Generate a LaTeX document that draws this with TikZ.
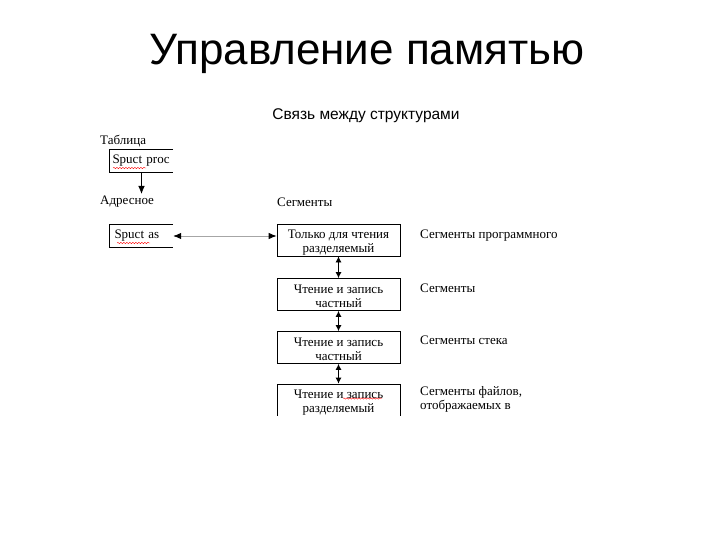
\documentclass[tikz,border=0pt]{standalone}
\usepackage{fontspec}
\setmainfont{Liberation Serif}
\newfontfamily\arialf{Liberation Sans}
\usetikzlibrary{arrows.meta,decorations.pathmorphing}
\newcommand{\twolines}[2]{\raisebox{-6pt}[0pt][0pt]{\begin{tabular}{@{}c@{}}#1\\#2\end{tabular}}}

\begin{document}
\begin{tikzpicture}[x=1pt,y=-1pt,
  txt/.style={font=\fontsize{13}{14}\selectfont, inner sep=0pt},
  box/.style={txt, draw=black, line width=0.8pt, minimum width=123pt, minimum height=32pt, align=center},
  lbox/.style={txt, minimum width=63pt, minimum height=22pt, text width=58pt, align=left},
  lbl/.style={txt, anchor=west, align=left},
  varr/.style={line width=0.8pt, {Latex[length=6pt,width=6pt]}-{Latex[length=6pt,width=6pt]}},
  harr/.style={draw=gray!70, line width=0.8pt, {Latex[length=8pt,width=6.5pt,black]}-{Latex[length=8pt,width=6.5pt,black]}},
  squig/.style={draw=red, line width=0.4pt, decorate, decoration={snake, amplitude=0.7pt, segment length=3pt}}
]
\useasboundingbox (0,0) rectangle (720,540);
\fill[white] (0,0) rectangle (720,540);

\node[font=\arialf\fontsize{44}{50}\selectfont, inner sep=0pt] (title) at (367,54) {Управление памятью};
\node[font=\arialf\fontsize{15.5}{17}\selectfont, inner sep=0pt] (sub) at (366,116) {Связь между структурами};

\begin{scope}
\clip (90,125) rectangle (600,415.2);

% left column
\node[lbl] (tab) at (100,141) {Таблица};
\node[lbox] (sp) at (141.5,161) {Spuct proc};
\draw[line width=0.8pt] (sp.north east) -- (sp.north west) -- (sp.south west) -- (sp.south east);
\draw[squig] (113,168) -- (146,168);

\node[lbl] (adr) at (100,202) {Адресное};
\coordinate (adrtop) at (141.5,194);
\draw[line width=0.8pt, -{Latex[length=8pt,width=6.5pt]}] (sp.south) -- (adrtop);

\node[lbox, text width=54pt] (sa) at (141.5,236) {Spuct as};
\draw[line width=0.8pt] (sa.north east) -- (sa.north west) -- (sa.south west) -- (sa.south east);
\draw[squig] (117,243) -- (150,243);

% right column
\node[lbl] (seg) at (277,202) {Сегменты};
\node[box] (b1) at (338.5,240) {\twolines{Только для чтения}{разделяемый}};
\node[box] (b2) at (338.5,294.5) {\twolines{Чтение и запись}{частный}};
\node[box] (b3) at (338.5,347.5) {\twolines{Чтение и запись}{частный}};
\node[box] (b4) at (338.5,400) {\twolines{Чтение и запись}{разделяемый}};
\draw[squig] (343,398.5) -- (382,398.5);

\draw[varr] (b1.south) -- (b2.north);
\draw[varr] (b2.south) -- (b3.north);
\draw[varr] (b3.south) -- (b4.north);
\draw[harr] (sa.east) -- (sa.east -| b1.west);

\node[lbl] (l1) at (420,236) {Сегменты программного};
\node[lbl] (l2) at (420,288) {Сегменты};
\node[lbl] (l3) at (420,340) {Сегменты стека};
\node[txt, anchor=north west, align=left] (l4) at (420,386) {Сегменты файлов,\\отображаемых в};
\end{scope}
\end{tikzpicture}
\end{document}
